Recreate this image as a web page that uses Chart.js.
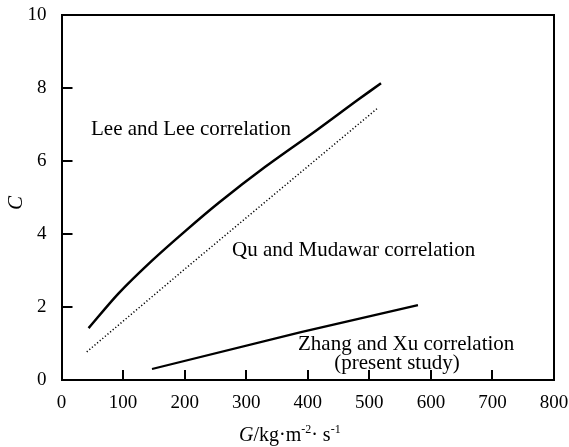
<!DOCTYPE html>
<html>
<head>
<meta charset="utf-8">
<script src="https://cdn.jsdelivr.net/npm/chart.js@4/dist/chart.umd.min.js"></script>
<style>
  html, body { margin: 0; padding: 0; background: #fff; }
  #wrap { width: 569px; height: 447px; }
</style>
</head>
<body>
<div id="wrap"><canvas id="chart" width="569" height="447"></canvas></div>
<script>
// values
const xTicks = [0, 100, 200, 300, 400, 500, 600, 700, 800];
const yTicks = [0, 2, 4, 6, 8, 10];

const leeG = [44, 92, 147, 201, 255, 331, 415, 481, 519];
const leeC = [1.42, 2.36, 3.27, 4.08, 4.85, 5.84, 6.85, 7.67, 8.13];

const quG = [41, 201, 513];
const quC = [0.77, 3.05, 7.44];

const zhangG = [147, 389, 579];
const zhangC = [0.30, 1.31, 2.05];

const serif = "'Liberation Serif', 'Times New Roman', serif";

function pts(xs, ys) {
  return xs.map((x, i) => ({ x: x, y: ys[i] }));
}

// white background, box, inner ticks and text labels
const decorations = {
  id: "decorations",
  beforeDraw(chart) {
    const ctx = chart.ctx;
    ctx.save();
    ctx.fillStyle = "#fff";
    ctx.fillRect(0, 0, chart.width, chart.height);
    ctx.restore();
  },
  afterDraw(chart) {
    const ctx = chart.ctx;
    const a = chart.chartArea;
    const xs = chart.scales.x;
    const ys = chart.scales.y;
    ctx.save();
    ctx.strokeStyle = "#000";
    ctx.lineWidth = 2;
    // top and right border
    ctx.beginPath();
    ctx.moveTo(a.left, a.top);
    ctx.lineTo(a.right, a.top);
    ctx.lineTo(a.right, a.bottom);
    ctx.stroke();
    // inward ticks
    ctx.beginPath();
    xTicks.slice(1, -1).forEach(v => {
      const px = Math.round(xs.getPixelForValue(v));
      ctx.moveTo(px, a.bottom);
      ctx.lineTo(px, a.bottom - 10);
    });
    yTicks.slice(1, -1).forEach(v => {
      const py = Math.round(ys.getPixelForValue(v));
      ctx.moveTo(a.left, py);
      ctx.lineTo(a.left + 11, py);
    });
    ctx.stroke();

    ctx.fillStyle = "#000";
    ctx.font = "21px " + serif;
    ctx.textBaseline = "alphabetic";
    ctx.textAlign = "left";
    ctx.fillText("Lee and Lee correlation", 91, 135);
    ctx.fillText("Qu and Mudawar correlation", 232, 256);
    ctx.fillText("Zhang and Xu correlation", 298, 350);
    ctx.textAlign = "center";
    ctx.fillText("(present study)", 397, 369);

    // y title
    ctx.save();
    ctx.translate(22, 203);
    ctx.rotate(-Math.PI / 2);
    ctx.font = "italic 21px " + serif;
    ctx.textAlign = "center";
    ctx.fillText("C", 0, 0);
    ctx.restore();

    // x title: G/kg·m-2·s-1
    let x = 239;
    const base = 441;
    ctx.textAlign = "left";
    const parts = [
      ["italic 20px " + serif, "G", 0],
      ["20px " + serif, "/kg\u00b7m", 0],
      ["12px " + serif, "-2", -8],
      ["20px " + serif, "\u00b7 s", 0],
      ["12px " + serif, "-1", -8]
    ];
    parts.forEach(p => {
      ctx.font = p[0];
      ctx.fillText(p[1], x, base + p[2]);
      x += ctx.measureText(p[1]).width;
    });
    ctx.restore();
  }
};

new Chart(document.getElementById("chart"), {
  type: "scatter",
  data: {
    datasets: [
      {
        label: "Lee and Lee correlation",
        data: pts(leeG, leeC),
        showLine: true,
        borderColor: "#000",
        borderWidth: 2.5,
        pointRadius: 0,
        tension: 0.3
      },
      {
        label: "Qu and Mudawar correlation",
        data: pts(quG, quC),
        showLine: true,
        borderColor: "#000",
        borderWidth: 1.5,
        borderDash: [1.2, 2.2],
        pointRadius: 0
      },
      {
        label: "Zhang and Xu correlation",
        data: pts(zhangG, zhangC),
        showLine: true,
        borderColor: "#000",
        borderWidth: 2.2,
        pointRadius: 0
      }
    ]
  },
  options: {
    responsive: false,
    animation: false,
    layout: { padding: { left: 0, right: 15, top: 15, bottom: 0 } },
    plugins: {
      legend: { display: false },
      tooltip: { enabled: false }
    },
    scales: {
      x: {
        type: "linear",
        min: 0,
        max: 800,
        afterBuildTicks: s => { s.ticks = xTicks.map(v => ({ value: v })); },
        afterFit: s => {
          s.height = 67;
          s.paddingLeft = 0;
          s.paddingRight = 0;
        },
        grid: { display: false, drawTicks: false },
        border: { display: true, color: "#000", width: 2 },
        ticks: {
          color: "#000",
          padding: 12,
          maxRotation: 0,
          font: { family: serif, size: 19 }
        }
      },
      y: {
        type: "linear",
        min: 0,
        max: 10,
        afterBuildTicks: s => { s.ticks = yTicks.map(v => ({ value: v })); },
        afterFit: s => {
          s.width = 61.5;
          s.paddingTop = 0;
          s.paddingBottom = 0;
        },
        grid: { display: false, drawTicks: false },
        border: { display: true, color: "#000", width: 2 },
        ticks: {
          color: "#000",
          padding: 15,
          font: { family: serif, size: 19 }
        }
      }
    }
  },
  plugins: [decorations]
});
</script>
</body>
</html>
